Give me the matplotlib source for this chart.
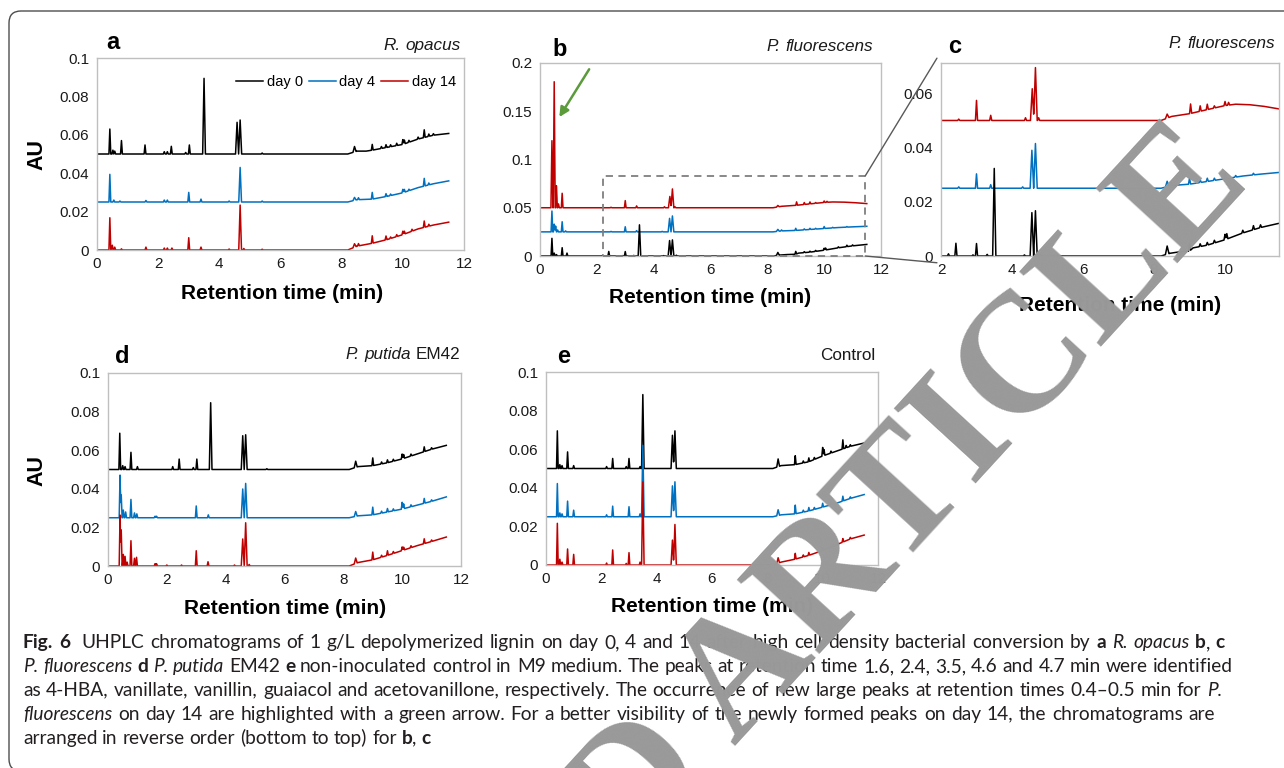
#!/usr/bin/env python3
"""
UHPLC chromatograms of depolymerized lignin, day 0 / 4 / 14 (Fig. 6, panels a-e).
Traces are rebuilt from peak lists read off the published figure:
  peaks = (retention time, height above local baseline[, half width])
  drift = (retention time, baseline rise) breakpoints
"""

import re
import numpy as np
import matplotlib
matplotlib.use("Agg")
import matplotlib.pyplot as plt
from matplotlib.patches import Rectangle, FancyBboxPatch, ConnectionPatch
from matplotlib.transforms import IdentityTransform

W, H = 1284, 768
plt.rcParams["font.family"] = ["Liberation Sans", "DejaVu Sans"]

DAYS = ["day 0", "day 4", "day 14"]
COLORS = {"day 0": "#000000", "day 4": "#0070C0", "day 14": "#C00000"}
PEAK_HW = 0.03   # default half width of a peak (min)

# ---- panel a: R. opacus ---------------------------------------------------
A_OFFSET = {"day 0": 0.05, "day 4": 0.025, "day 14": 0.0}
A0_PEAKS = [(0.42, 0.013), (0.52, 0.002), (0.58, 0.0015), (0.8, 0.007), (1.57, 0.0047),
            (2.2, 0.0012), (2.3, 0.0012), (2.43, 0.004), (2.9, 0.0008), (3.02, 0.0047),
            (3.5, 0.0394, 0.045), (4.58, 0.0165, 0.05), (4.68, 0.0177, 0.05), (5.4, 0.0005),
            (8.42, 0.0028, 0.05), (9.0, 0.003), (9.3, 0.001), (9.45, 0.0015), (9.6, 0.001),
            (9.8, 0.0012), (10.0, 0.0025), (10.05, 0.002), (10.2, 0.001), (10.5, 0.001),
            (10.7, 0.004), (10.85, 0.0012), (11.0, 0.0008)]
A0_DRIFT = [(0, 0), (8.2, 0), (8.5, 0.0015), (8.8, 0.0015), (9.0, 0.002), (9.5, 0.0035),
            (10.0, 0.005), (10.5, 0.0078), (11.0, 0.0098), (11.5, 0.0107)]
A4_PEAKS = [(0.42, 0.0144), (0.55, 0.001), (0.75, 0.0005), (1.6, 0.0008), (2.2, 0.001),
            (2.3, 0.001), (3.0, 0.005), (3.4, 0.0015), (4.32, 0.0005), (4.68, 0.018, 0.045),
            (5.4, 0.0005), (8.42, 0.0015, 0.05), (8.55, 0.001), (9.0, 0.0035), (9.45, 0.0015),
            (9.6, 0.0008), (10.0, 0.0018), (10.05, 0.0015), (10.2, 0.0008), (10.7, 0.004),
            (10.85, 0.001)]
A4_DRIFT = [(0, 0), (8.2, 0), (8.5, 0.0012), (9.0, 0.0015), (9.5, 0.003), (10.0, 0.0048),
            (10.5, 0.0075), (11.0, 0.0095), (11.5, 0.011)]
A14_PEAKS = [(0.42, 0.0168), (0.5, 0.0025), (0.58, 0.0015), (0.8, 0.0006), (1.6, 0.0015),
             (2.2, 0.001), (2.3, 0.001), (2.45, 0.001), (3.0, 0.0064), (3.4, 0.0015),
             (4.32, 0.0005), (4.68, 0.0234, 0.045), (4.8, 0.0008), (5.4, 0.0004),
             (8.42, 0.0018, 0.05), (8.55, 0.0012), (9.0, 0.0039), (9.45, 0.002), (9.6, 0.0008),
             (9.8, 0.001), (10.0, 0.0018), (10.05, 0.0015), (10.3, 0.001), (10.7, 0.0033),
             (10.85, 0.001)]
A14_DRIFT = [(0, 0), (8.2, 0), (8.5, 0.002), (9.0, 0.0035), (9.5, 0.0055), (10.0, 0.008),
             (10.5, 0.011), (11.0, 0.013), (11.5, 0.0145)]

# ---- panels b/c: P. fluorescens (reverse stacking) ---------------------------
B_OFFSET = {"day 0": 0.0, "day 4": 0.025, "day 14": 0.05}
B0_PEAKS = [(0.42, 0.0183), (0.5, 0.003), (0.58, 0.0015), (0.78, 0.0086), (0.95, 0.003),
            (2.21, 0.0008), (2.42, 0.0047), (2.9, 0.0004), (3.0, 0.0046), (3.3, 0.0006),
            (3.5, 0.0323, 0.045), (4.35, 0.0004), (4.56, 0.016, 0.05), (4.66, 0.0167, 0.05),
            (4.8, 0.0008), (8.37, 0.003, 0.05), (9.0, 0.003), (9.3, 0.001), (9.5, 0.001),
            (9.7, 0.001), (10.0, 0.002), (10.05, 0.002), (10.5, 0.001), (10.8, 0.0015),
            (11.0, 0.001)]
B0_DRIFT = [(0, 0), (8.2, 0), (8.45, 0.001), (8.7, 0.0015), (9.0, 0.0018), (9.1, 0.003),
            (9.5, 0.004), (10.0, 0.006), (10.5, 0.0085), (11.0, 0.0105), (11.5, 0.012)]
B4_PEAKS = [(0.42, 0.0216), (0.5, 0.008), (0.55, 0.006), (0.62, 0.002), (0.78, 0.0105),
            (0.9, 0.001), (2.5, 0.0005), (3.0, 0.0053), (3.4, 0.0013), (4.3, 0.0005),
            (4.56, 0.014, 0.05), (4.66, 0.0165, 0.05), (8.37, 0.002, 0.05), (8.5, 0.001),
            (9.0, 0.0022), (9.3, 0.001), (9.5, 0.0012), (9.7, 0.0008), (10.0, 0.002),
            (10.3, 0.0006), (10.8, 0.0006)]
B4_DRIFT = [(0, 0), (8.2, 0), (8.5, 0.001), (9.0, 0.0015), (9.5, 0.0025), (10.0, 0.0035),
            (10.5, 0.0045), (11.0, 0.0052), (11.5, 0.0058)]
B14_PEAKS = [(0.42, 0.0695, 0.035), (0.5, 0.1306, 0.035), (0.58, 0.0229), (0.65, 0.004),
             (0.78, 0.015), (2.5, 0.0005), (3.0, 0.0074), (3.4, 0.0019), (4.38, 0.001),
             (4.57, 0.0117, 0.05), (4.66, 0.0195, 0.05), (4.75, 0.001), (8.37, 0.0015, 0.05),
             (9.03, 0.0035), (9.3, 0.002), (9.5, 0.002), (9.7, 0.0008), (10.0, 0.0015),
             (10.1, 0.001)]
B14_DRIFT = [(0, 0), (8.2, 0), (8.5, 0.0015), (9.0, 0.0025), (9.5, 0.004), (10.0, 0.0055),
             (10.3, 0.006), (10.7, 0.0058), (11.1, 0.0052), (11.5, 0.0043)]

# ---- panel d: P. putida EM42 ------------------------------------------------
D_OFFSET = {"day 0": 0.05, "day 4": 0.025, "day 14": 0.0}
D0_PEAKS = [(0.4, 0.0188), (0.5, 0.002), (0.58, 0.0015), (0.78, 0.0089), (1.0, 0.0015),
            (2.2, 0.0015), (2.42, 0.0054), (2.9, 0.001), (3.02, 0.0054), (3.49, 0.0346, 0.045),
            (4.58, 0.0175, 0.05), (4.68, 0.018, 0.05), (5.4, 0.0004), (8.42, 0.0032, 0.05),
            (9.0, 0.004), (9.3, 0.001), (9.5, 0.0015), (9.7, 0.001), (10.0, 0.0025),
            (10.05, 0.002), (10.3, 0.001), (10.75, 0.0025), (11.0, 0.0008)]
D0_DRIFT = [(0, 0), (8.2, 0), (8.5, 0.0015), (9.0, 0.002), (9.5, 0.0035), (10.0, 0.0055),
            (10.5, 0.008), (11.0, 0.0105), (11.5, 0.0125)]
D4_PEAKS = [(0.41, 0.0221), (0.45, 0.0118), (0.52, 0.004), (0.6, 0.003), (0.78, 0.0095),
            (0.9, 0.0025), (0.98, 0.002), (1.6, 0.0008), (1.65, 0.0008), (3.0, 0.0061),
            (3.41, 0.0015), (4.58, 0.0149, 0.05), (4.68, 0.0178, 0.05), (8.42, 0.0025, 0.05),
            (9.0, 0.004), (9.3, 0.001), (9.5, 0.0018), (9.7, 0.001), (10.0, 0.0035),
            (10.05, 0.0025), (10.3, 0.001), (10.75, 0.0025), (11.0, 0.0008)]
D4_DRIFT = [(0, 0), (8.2, 0), (8.5, 0.001), (9.0, 0.0015), (9.5, 0.003), (10.0, 0.0045),
            (10.5, 0.0065), (11.0, 0.0085), (11.5, 0.0108)]
D14_PEAKS = [(0.41, 0.0264), (0.45, 0.0187), (0.52, 0.006), (0.58, 0.005), (0.65, 0.002),
             (0.78, 0.0131), (0.9, 0.004), (0.97, 0.0045), (1.6, 0.0012), (1.65, 0.0012),
             (2.0, 0.0005), (2.5, 0.0005), (3.0, 0.0079), (3.4, 0.0022), (4.3, 0.0005),
             (4.58, 0.014, 0.05), (4.68, 0.0224, 0.05), (4.8, 0.0008), (8.42, 0.0028, 0.05),
             (9.0, 0.004), (9.3, 0.001), (9.5, 0.0024), (9.7, 0.001), (10.0, 0.0019),
             (10.05, 0.0015), (10.3, 0.001), (10.75, 0.0025), (11.0, 0.0008)]
D14_DRIFT = [(0, 0), (8.2, 0), (8.5, 0.0018), (9.0, 0.0032), (9.5, 0.0055), (10.0, 0.008),
             (10.5, 0.0105), (11.0, 0.0127), (11.5, 0.015)]

# ---- panel e: non-inoculated control ------------------------------------------
E_OFFSET = {"day 0": 0.05, "day 4": 0.025, "day 14": 0.0}
E0_PEAKS = [(0.41, 0.0195), (0.5, 0.002), (0.58, 0.0015), (0.78, 0.0086), (1.0, 0.0015),
            (2.19, 0.001), (2.41, 0.0052), (2.9, 0.001), (3.0, 0.0052), (3.4, 0.001),
            (3.5, 0.0383, 0.045), (4.57, 0.0172, 0.05), (4.66, 0.0195, 0.05),
            (8.39, 0.004, 0.05), (9.01, 0.0046), (9.3, 0.001), (9.5, 0.002), (9.7, 0.001),
            (10.0, 0.0044), (10.05, 0.003), (10.3, 0.001), (10.73, 0.0047), (10.85, 0.0012),
            (11.0, 0.0008)]
E0_DRIFT = [(0, 0), (8.2, 0), (8.5, 0.0015), (9.0, 0.002), (9.5, 0.0035), (10.0, 0.0065),
            (10.5, 0.009), (11.0, 0.0115), (11.5, 0.0132)]
E4_PEAKS = [(0.41, 0.0172), (0.5, 0.002), (0.58, 0.0015), (0.78, 0.0081), (1.0, 0.0034),
            (2.19, 0.001), (2.41, 0.0055), (3.0, 0.0052), (3.4, 0.0015), (3.5, 0.037, 0.045),
            (4.57, 0.016, 0.05), (4.66, 0.0181, 0.05), (8.39, 0.003, 0.05), (9.01, 0.0045),
            (9.3, 0.001), (9.5, 0.0018), (9.7, 0.001), (10.0, 0.002), (10.3, 0.001),
            (10.73, 0.0025), (11.0, 0.0008)]
E4_DRIFT = [(0, 0), (8.2, 0), (8.5, 0.001), (9.0, 0.0015), (9.5, 0.003), (10.0, 0.005),
            (10.5, 0.007), (11.0, 0.0095), (11.5, 0.0115)]
E14_PEAKS = [(0.41, 0.0216), (0.5, 0.003), (0.58, 0.0015), (0.78, 0.0083), (1.0, 0.0055),
             (2.19, 0.001), (2.41, 0.0078), (2.9, 0.0008), (3.0, 0.0064), (3.4, 0.0015),
             (3.5, 0.0431, 0.045), (4.57, 0.0129, 0.05), (4.66, 0.021, 0.05),
             (8.39, 0.0028, 0.05), (9.01, 0.003), (9.3, 0.001), (9.5, 0.0015), (10.0, 0.0015),
             (10.73, 0.0018), (11.0, 0.0008)]
E14_DRIFT = [(0, 0), (8.2, 0), (8.5, 0.0015), (9.0, 0.003), (9.5, 0.005), (10.0, 0.0075),
             (10.5, 0.0105), (11.0, 0.0135), (11.5, 0.0155)]

AU_TICKS = [0, 0.02, 0.04, 0.06, 0.08, 0.1]
B_TICKS = [0, 0.05, 0.1, 0.15, 0.2]
C_TICKS = [0, 0.02, 0.04, 0.06]
RT_TICKS = [0, 2, 4, 6, 8, 10, 12]
C_RT_TICKS = [2, 4, 6, 8, 10]

CAPTION = [
    "**Fig. 6**  UHPLC chromatograms of 1 g/L depolymerized lignin on day 0, 4 and 14 after "
    "high cell density bacterial conversion by **a** *R. opacus* **b**, **c**",
    "*P. fluorescens* **d** *P. putida* EM42 **e** non-inoculated control in M9 medium. The peaks "
    "at retention time 1.6, 2.4, 3.5, 4.6 and 4.7 min were identified",
    "as 4-HBA, vanillate, vanillin, guaiacol and acetovanillone, respectively. The occurrence of "
    "new large peaks at retention times 0.4\u20130.5 min for *P.*",
    "*fluorescens* on day 14 are highlighted with a green arrow. For a better visibility of the "
    "newly formed peaks on day 14, the chromatograms are",
    "arranged in reverse order (bottom to top) for **b**, **c**",
]
CAPTION_RIGHT = [1225, 1233, 1222, 1215, None]   # justified right edge (px)
CAP_FONT = "Lato"


def build_trace(offset, drift, peaks):
    """Piecewise-linear chromatogram: baseline drift + triangular peaks."""
    dt = [p[0] for p in drift]
    dv = [p[1] for p in drift]
    ts = set(dt)
    for pk in peaks:
        hw = pk[2] if len(pk) > 2 else PEAK_HW
        ts.update([pk[0] - hw, pk[0], pk[0] + hw])
    x = np.array(sorted(ts))
    y = offset + np.interp(x, dt, dv)
    for pk in peaks:
        hw = pk[2] if len(pk) > 2 else PEAK_HW
        y += pk[1] * np.clip(1 - np.abs(x - pk[0]) / hw, 0, None)
    return x, y


def add_axes_px(fig, left, top, right, bottom):
    return fig.add_axes([left / W, 1 - bottom / H, (right - left) / W, (bottom - top) / H])


def style_axes(ax, xlim, xticks, ylim, yticks):
    ax.set_xlim(*xlim)
    ax.set_ylim(*ylim)
    ax.set_xticks(xticks)
    ax.set_xticklabels([f"{v:g}" for v in xticks])
    ax.set_yticks(yticks)
    ax.set_yticklabels([f"{v:g}" for v in yticks])
    for sp in ax.spines.values():
        sp.set_color("#BFBFBF")
        sp.set_linewidth(1.0)
    ax.tick_params(length=0, labelsize=11, labelcolor="#1A1A1A")
    ax.tick_params(axis="x", pad=5)
    ax.tick_params(axis="y", pad=5.5)


def plot_traces(ax, offsets, series, order):
    lines = {}
    for day in order:
        peaks, drift = series[day]
        x, y = build_trace(offsets[day], drift, peaks)
        lines[day], = ax.plot(x, y, color=COLORS[day], lw=1.1, label=day)
    return lines


def parse_markup(s):
    """'**bold**' / '*italic*' markup -> list of words, each a list of (text, bold, italic) runs."""
    chars = []
    bold = ital = False
    for part in re.split(r"(\*\*|\*)", s):
        if part == "**":
            bold = not bold
        elif part == "*":
            ital = not ital
        else:
            chars.extend((c, bold, ital) for c in part)
    words = [[]]
    for c, b, i in chars:
        if c == " ":
            words.append([])
        elif words[-1] and words[-1][-1][1:] == (b, i):
            words[-1][-1] = (words[-1][-1][0] + c, b, i)
        else:
            words[-1].append((c, b, i))
    return words


def run_props(b, i, family, size, color):
    return dict(family=family, size=size, color=color,
                weight="bold" if b else "normal", style="italic" if i else "normal")


def text_width(fig, renderer, s, props):
    t = fig.text(0, 0, s, **props)
    w = t.get_window_extent(renderer).width
    t.remove()
    return w


def space_width(fig, renderer, family, size):
    p = run_props(False, False, family, size, "k")
    return text_width(fig, renderer, "n n", p) - text_width(fig, renderer, "nn", p)


def natural_width(fig, renderer, markup, family, size):
    words = parse_markup(markup)
    ink = sum(text_width(fig, renderer, s, run_props(b, i, family, size, "k"))
              for w in words for s, b, i in w)
    return ink + space_width(fig, renderer, family, size) * (len(words) - 1)


def rich_text(fig, renderer, x, y, markup, family, size, color="#1A1A1A",
              ha="left", right=None, zorder=3):
    words = parse_markup(markup)
    widths = [sum(text_width(fig, renderer, s, run_props(b, i, family, size, color))
                  for s, b, i in w) for w in words]
    gap = space_width(fig, renderer, family, size)
    if right is not None and len(words) > 1:
        gap = (right - x - sum(widths)) / (len(words) - 1)
    total = sum(widths) + gap * (len(words) - 1)
    cx = x - total if ha == "right" else x
    for w, wd in zip(words, widths):
        px = cx
        for s, b, i in w:
            props = run_props(b, i, family, size, color)
            fig.text(px / W, 1 - y / H, s, va="baseline", ha="left", zorder=zorder, **props)
            px += text_width(fig, renderer, s, props)
        cx += wd + gap


def main():
    fig = plt.figure(figsize=(W / 100, H / 100), dpi=100)
    renderer = fig.canvas.get_renderer()

    ax_a = add_axes_px(fig, 97, 58, 464, 250)
    ax_b = add_axes_px(fig, 540, 63, 881, 256)
    ax_c = add_axes_px(fig, 941, 63, 1279, 256)
    ax_d = add_axes_px(fig, 108, 373, 461, 566)
    ax_e = add_axes_px(fig, 546, 372, 878, 565)

    a_series = {"day 0": (A0_PEAKS, A0_DRIFT), "day 4": (A4_PEAKS, A4_DRIFT),
                "day 14": (A14_PEAKS, A14_DRIFT)}
    b_series = {"day 0": (B0_PEAKS, B0_DRIFT), "day 4": (B4_PEAKS, B4_DRIFT),
                "day 14": (B14_PEAKS, B14_DRIFT)}
    d_series = {"day 0": (D0_PEAKS, D0_DRIFT), "day 4": (D4_PEAKS, D4_DRIFT),
                "day 14": (D14_PEAKS, D14_DRIFT)}
    e_series = {"day 0": (E0_PEAKS, E0_DRIFT), "day 4": (E4_PEAKS, E4_DRIFT),
                "day 14": (E14_PEAKS, E14_DRIFT)}

    lines = plot_traces(ax_a, A_OFFSET, a_series, DAYS)
    plot_traces(ax_b, B_OFFSET, b_series, DAYS[::-1])
    plot_traces(ax_c, B_OFFSET, b_series, DAYS[::-1])
    plot_traces(ax_d, D_OFFSET, d_series, DAYS)
    plot_traces(ax_e, E_OFFSET, e_series, DAYS)

    style_axes(ax_a, (0, 12), RT_TICKS, (0, 0.1), AU_TICKS)
    style_axes(ax_b, (0, 12), RT_TICKS, (0, 0.2), B_TICKS)
    style_axes(ax_c, (2, 11.52), C_RT_TICKS, (0, 0.0712), C_TICKS)
    style_axes(ax_d, (0, 12), RT_TICKS, (0, 0.1), AU_TICKS)
    style_axes(ax_e, (0, 12), RT_TICKS, (0, 0.1), AU_TICKS)

    ax_a.legend([lines[d] for d in DAYS], DAYS, ncol=3, frameon=False, fontsize=10.5,
                loc="center right", bbox_to_anchor=(456 / W, 1 - 82 / H),
                bbox_transform=fig.transFigure, borderpad=0, borderaxespad=0,
                handlelength=1.85, handletextpad=0.25, columnspacing=0.4)

    # zoom box in b and connectors to c
    ax_b.add_patch(Rectangle((2.2, 0), 9.25, 0.0832, fill=False, ec="#7F7F7F", lw=1.3,
                             ls=(0, (4, 3)), clip_on=False, zorder=5))
    for ya, yb in [(0.0832, 1.025), (0.0, -0.035)]:
        fig.add_artist(ConnectionPatch(xyA=(11.45, ya), coordsA=ax_b.transData,
                                       xyB=(-0.012, yb), coordsB=ax_c.transAxes,
                                       color="#595959", lw=1.0))
    ax_b.annotate("", xy=(0.68, 0.144), xytext=(1.73, 0.1935),
                  arrowprops=dict(arrowstyle="-|>", color="#5B9B3C", lw=1.8,
                                  mutation_scale=14, shrinkA=0, shrinkB=0))

    # panel letters, organism names, axis titles
    for s, x, y in [("a", 106, 49), ("b", 552, 56), ("c", 948, 53), ("d", 115, 363),
                    ("e", 557, 363)]:
        fig.text(x / W, 1 - y / H, s, ha="left", va="baseline", size=17, weight="bold")
    for s, x, y in [("*R. opacus*", 461, 50), ("*P. fluorescens*", 873, 51),
                    ("*P. fluorescens*", 1275, 48), ("*P. putida* EM42", 460, 359),
                    ("Control", 875, 360)]:
        rich_text(fig, renderer, x, y, s, "Liberation Sans", 12.3, "#1A1A1A", ha="right")
    for x, y in [(282, 293), (710, 298), (1120, 305), (285, 608), (712, 607)]:
        fig.text(x / W, 1 - y / H, "Retention time (min)", ha="center", va="center",
                 size=15, weight="bold")
    for y in [154, 470]:
        fig.text(37 / W, 1 - y / H, "AU", ha="center", va="center", rotation=90,
                 size=15.5, weight="bold")

    # caption: fit the size to the justified lines, then justify them
    ratios = [(r - 23) / natural_width(fig, renderer, line, CAP_FONT, 12)
              for line, r in zip(CAPTION, CAPTION_RIGHT) if r is not None]
    cap_size = 12 * min(ratios)
    for k, (line, right) in enumerate(zip(CAPTION, CAPTION_RIGHT)):
        rich_text(fig, renderer, 23, 648 + 23.9 * k, line, CAP_FONT, cap_size,
                  "#231F20", right=right)

    # rounded frame
    fig.add_artist(FancyBboxPatch((9, -3), 1320, 768 - 11 + 3,
                                  boxstyle="round,pad=0,rounding_size=12",
                                  transform=IdentityTransform(), fill=False,
                                  ec="#4D4D4D", lw=1.0))

    # retraction watermark
    fig.text(1252 / W, 1 - 182 / H, "RETRACTED ARTICLE", rotation=47.5, rotation_mode="anchor",
             ha="right", va="baseline", family="Liberation Serif", weight="bold",
             size=122, color="#999999", zorder=20)

    fig.savefig("out.png", dpi=100)
    plt.close(fig)


if __name__ == "__main__":
    main()
